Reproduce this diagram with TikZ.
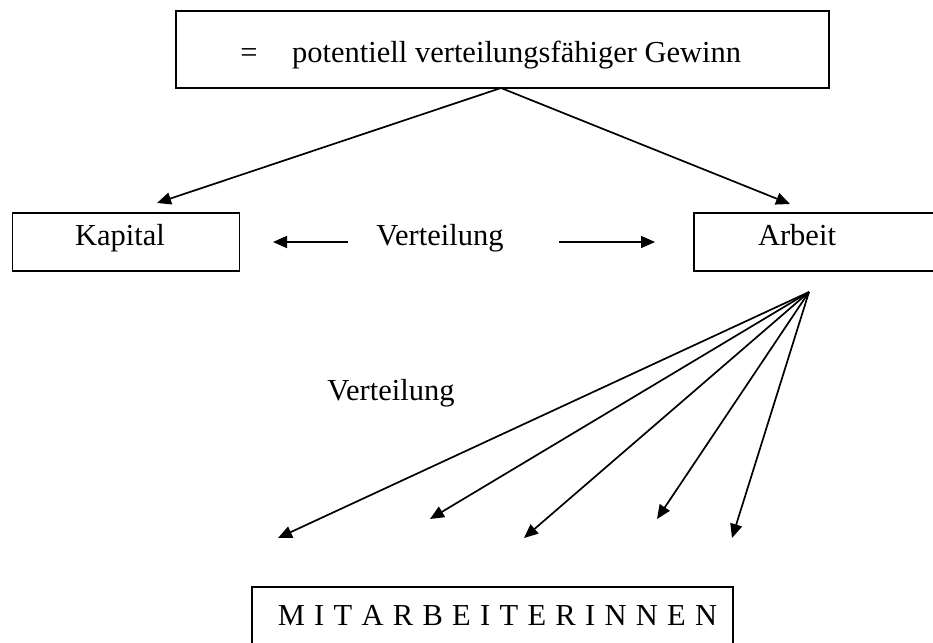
\documentclass[tikz,border=0pt]{standalone}
\usepackage{fontspec}
\setmainfont{Liberation Serif}
\usetikzlibrary{arrows.meta}
\newcommand{\lsp}{\hspace{9.3pt}}
\begin{document}
\begin{tikzpicture}[x=1pt,y=-1pt,
  box/.style={draw,line width=1.2pt,rectangle,inner sep=0pt},
  lbl/.style={anchor=base,inner sep=0pt,font=\fontsize{30.5}{36}\selectfont},
  arr/.style={line width=1.7pt,-{Triangle[length=14pt,width=12pt]}}]
\useasboundingbox (0,0) rectangle (933,642);
\clip (0,0) rectangle (933,642);
% boxes
\node[box,minimum width=653pt,minimum height=77pt] (top) at (502.5,49.5) {};
\node[box,minimum width=227pt,minimum height=58pt] (kapital) at (126.3,242) {};
\node[box,minimum width=240pt,minimum height=58pt] (arbeit) at (814,242) {};
\node[box,minimum width=481pt,minimum height=70pt] (mit) at (492.5,622) {};
% labels
\node[lbl] (eq) at (249,63) {=};
\node[lbl,anchor=base west] (gewinn) at (292,63) {potentiell verteilungsfähiger Gewinn};
\node[lbl] (kaptxt) at (120,245) {Kapital};
\node[lbl] (arbtxt) at (797,245) {Arbeit};
\node[lbl] (vert1) at (440,245) {Verteilung};
\node[lbl] (vert2) at (391,400) {Verteilung};
\node[lbl] (mittxt) at (497.5,625) {M\lsp I\lsp T\lsp A\lsp R\lsp B\lsp E\lsp I\lsp T\lsp E\lsp R\lsp I\lsp N\lsp N\lsp E\lsp N};
% coordinates
\coordinate (apex) at (501,88);
\coordinate (kt) at (157,203);
\coordinate (at) at (790,204);
\coordinate (la) at (348,242);
\coordinate (lb) at (273,242);
\coordinate (ra) at (559,242);
\coordinate (rb) at (655,242);
\coordinate (fan) at (809,292);
\coordinate (f1) at (278,538);
\coordinate (f2) at (430,519);
\coordinate (f3) at (524,538);
\coordinate (f4) at (657,519);
\coordinate (f5) at (732,538);
% connectors
\draw[arr] (apex) -- (kt);
\draw[arr] (apex) -- (at);
\draw[arr] (la) -- (lb);
\draw[arr] (ra) -- (rb);
\foreach \t in {f1,f2,f3,f4,f5} \draw[arr] (fan) -- (\t);
\end{tikzpicture}
\end{document}
